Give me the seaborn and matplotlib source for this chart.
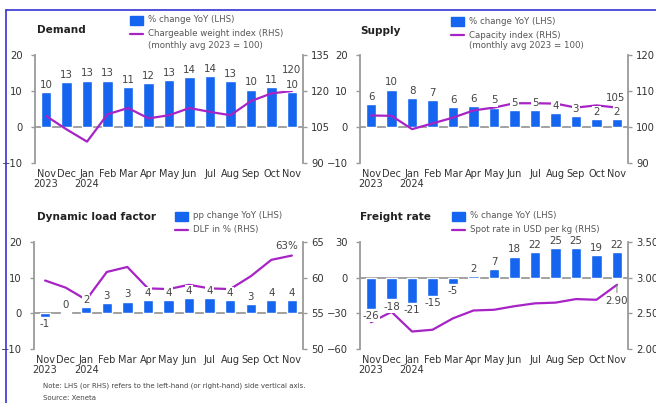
"""Air cargo market dashboard: demand, supply, load factor and freight rate."""

import matplotlib

matplotlib.use("Agg")

import matplotlib.pyplot as plt
from matplotlib.lines import Line2D
from matplotlib.patches import Rectangle
import seaborn as sns


W, H = 656, 403
BAR_COLOR = "#1565F0"
LINE_COLOR = "#A723C6"
SPINE_COLOR = "#9a9a9a"
TEXT_COLOR = "#333333"
FRAME_COLOR = "#3434D4"

MONTHS = ["Nov\n2023", "Dec", "Jan\n2024", "Feb", "Mar", "Apr", "May",
          "Jun", "Jul", "Aug", "Sep", "Oct", "Nov"]

DEMAND_YOY = [9.6, 12.6, 12.9, 12.9, 11.2, 12.1, 13.1, 14.0, 14.2, 12.7, 10.4, 11.0, 9.6]
DEMAND_INDEX = [109.6, 104.0, 98.9, 110.3, 112.9, 108.6, 109.9, 112.9, 111.3, 109.9, 115.8, 119.0, 120.0]

SUPPLY_YOY = [6.4, 10.4, 8.1, 7.4, 5.6, 5.9, 5.4, 4.6, 4.6, 4.0, 3.1, 2.3, 2.3]
SUPPLY_INDEX = [103.2, 103.1, 99.4, 101.0, 102.6, 104.6, 105.4, 106.6, 106.6, 106.5, 105.4, 106.0, 105.4]

DLF_PP = [-0.9, 0.3, 1.7, 3.0, 3.3, 3.6, 3.8, 4.2, 4.2, 3.6, 2.6, 3.8, 3.6]
DLF_PCT = [59.6, 58.6, 56.9, 60.8, 61.5, 58.5, 58.4, 59.0, 58.5, 58.4, 60.2, 62.5, 63.1]

FREIGHT_YOY = [-26.4, -18.3, -21.4, -15.3, -5.3, 1.7, 6.9, 17.8, 21.6, 24.6, 24.7, 18.9, 21.6]
SPOT_RATE = [2.375, 2.52, 2.245, 2.27, 2.43, 2.54, 2.55, 2.60, 2.64, 2.65, 2.70, 2.69, 2.90]

PANELS = [
    {
        "title": "Demand",
        "bars": DEMAND_YOY,
        "line": DEMAND_INDEX,
        "bar_legend": "% change YoY (LHS)",
        "line_legend": ["Chargeable weight index (RHS)", "(monthly avg 2023 = 100)"],
        "left_ticks": [-10, 0, 10, 20],
        "right_ticks": [90, 105, 120, 135],
        "right_fmt": "{:.0f}",
        "end_fmt": "{:.0f}",
        "end_offset": (0, 11.5),
        "box": (35, 55, 303, 163),
        "title_xy": (37, 30),
        "legend_xy": (130, 20),
    },
    {
        "title": "Supply",
        "bars": SUPPLY_YOY,
        "line": SUPPLY_INDEX,
        "bar_legend": "% change YoY (LHS)",
        "line_legend": ["Capacity index (RHS)", "(monthly avg 2023 = 100)"],
        "left_ticks": [-10, 0, 10, 20],
        "right_ticks": [90, 100, 110, 120],
        "right_fmt": "{:.0f}",
        "end_fmt": "{:.0f}",
        "end_offset": (-1, 3.5),
        "box": (360, 55, 628, 163),
        "title_xy": (360, 31),
        "legend_xy": (451, 21),
    },
    {
        "title": "Dynamic load factor",
        "bars": DLF_PP,
        "line": DLF_PCT,
        "bar_legend": "pp change YoY (LHS)",
        "line_legend": ["DLF in % (RHS)"],
        "left_ticks": [-10, 0, 10, 20],
        "right_ticks": [50, 55, 60, 65],
        "right_fmt": "{:.0f}",
        "end_fmt": "{:.0f}%",
        "end_offset": (-4, 3.5),
        "box": (34, 242, 303, 349),
        "title_xy": (37, 217),
        "legend_xy": (175, 216),
    },
    {
        "title": "Freight rate",
        "bars": FREIGHT_YOY,
        "line": SPOT_RATE,
        "bar_legend": "% change YoY (LHS)",
        "line_legend": ["Spot rate in USD per kg (RHS)"],
        "left_ticks": [-60, -30, 0, 30],
        "right_ticks": [2.0, 2.5, 3.0, 3.5],
        "right_fmt": "{:.2f}",
        "end_fmt": "{:.2f}",
        "end_offset": (0, -8),
        "box": (360, 242, 628, 349),
        "title_xy": (360, 217),
        "legend_xy": (452, 216),
    },
]


def fx(px: float) -> float:
    return px / W


def fy(py: float) -> float:
    return 1 - py / H


def draw_legend(fig, spec) -> None:
    """Hand-placed legend: bar swatch, line swatch and wrapped text."""
    x, y = spec["legend_xy"]
    fig.add_artist(Rectangle((fx(x), fy(y + 4.5)), fx(13), 9 / H, color=BAR_COLOR,
                             transform=fig.transFigure))
    fig.text(fx(x + 18), fy(y), spec["bar_legend"], fontsize=6.2, color="#555555", va="center")
    ly = y + 14
    fig.add_artist(Line2D([fx(x), fx(x + 13)], [fy(ly), fy(ly)], color=LINE_COLOR, lw=1.6,
                          transform=fig.transFigure))
    for i, text in enumerate(spec["line_legend"]):
        fig.text(fx(x + 18), fy(ly + 11 * i), text, fontsize=6.2, color="#555555", va="center")


def draw_panel(fig, spec) -> None:
    left, top, right, bottom = spec["box"]
    ax = fig.add_axes([fx(left), fy(bottom), fx(right - left), (bottom - top) / H])
    sns.barplot(x=MONTHS, y=spec["bars"], color=BAR_COLOR, saturation=1, width=0.5, ax=ax, zorder=2)
    ax.axhline(0, color=SPINE_COLOR, lw=1.3, zorder=1)

    ax2 = ax.twinx()
    sns.lineplot(x=MONTHS, y=spec["line"], sort=False, color=LINE_COLOR, lw=1.6, ax=ax2)

    lt, rt = spec["left_ticks"], spec["right_ticks"]
    ax.set_ylim(lt[0], lt[-1])
    ax.set_yticks(lt)
    ax2.set_ylim(rt[0], rt[-1])
    ax2.set_yticks(rt)
    ax2.set_yticklabels([spec["right_fmt"].format(v) for v in rt])
    ax.set_xlim(-0.54, len(MONTHS) - 0.46)

    for a in (ax, ax2):
        for side in ("top", "bottom", "left", "right"):
            a.spines[side].set_visible(False)
        a.set_xlabel("")
        a.set_ylabel("")
    ax.spines["left"].set_visible(True)
    ax.spines["left"].set_color(SPINE_COLOR)
    ax.spines["left"].set_linewidth(1.3)
    ax2.spines["right"].set_visible(True)
    ax2.spines["right"].set_color(SPINE_COLOR)
    ax2.spines["right"].set_linewidth(1.3)

    ax.tick_params(axis="y", length=3, width=1, color=SPINE_COLOR, pad=6,
                   labelsize=7.2, labelcolor=TEXT_COLOR)
    ax2.tick_params(axis="y", length=3, width=1, color=SPINE_COLOR, pad=3,
                    labelsize=7.2, labelcolor=TEXT_COLOR)
    ax.tick_params(axis="x", length=0, pad=4, labelsize=7.0, labelcolor=TEXT_COLOR)
    for label in ax.get_xticklabels():
        label.set_linespacing(1.1)

    # bar value labels go on the twin axes so they sit above the line
    for bar in ax.patches:
        h = bar.get_height()
        cx = bar.get_x() + bar.get_width() / 2
        ax2.annotate(f"{h:.0f}", xy=(cx, h), xycoords=ax.transData,
                     xytext=(0, 1.5 if h >= 0 else -1.5), textcoords="offset points",
                     ha="center", va="bottom" if h >= 0 else "top",
                     fontsize=7.4, color="#444444", zorder=5,
                     bbox=dict(boxstyle="square,pad=0.1", fc="white", ec="none"))

    last = len(MONTHS) - 1
    end_val = spec["line"][-1]
    dx, dy = spec["end_offset"]
    arrow = dict(arrowstyle="-", color="#777777", lw=0.7, shrinkA=0, shrinkB=0) if dy < 0 else None
    ax2.annotate(spec["end_fmt"].format(end_val), xy=(last, end_val),
                 xytext=(dx, dy), textcoords="offset points",
                 ha="center", va="bottom" if dy >= 0 else "top",
                 fontsize=7.4, color="#444444", zorder=6, arrowprops=arrow)

    tx, ty = spec["title_xy"]
    fig.text(fx(tx), fy(ty), spec["title"], fontsize=7.6, fontweight="bold",
             color="#222222", va="center")
    draw_legend(fig, spec)


def main() -> None:
    sns.set_theme(style="white")
    plt.rcParams["font.family"] = ["DejaVu Sans"]
    fig = plt.figure(figsize=(W / 100, H / 100), dpi=100)
    fig.patch.set_facecolor("white")

    for spec in PANELS:
        draw_panel(fig, spec)

    fig.text(fx(43), fy(386),
             "Note: LHS (or RHS) refers to the left-hand (or right-hand) side vertical axis.",
             fontsize=5, color="#444444", va="center")
    fig.text(fx(43), fy(398), "Source: Xeneta", fontsize=5, color="#444444", va="center")

    # blue frame round the top and left edges
    fig.add_artist(Line2D([fx(6), fx(6)], [fy(10), 0], color=FRAME_COLOR, lw=1.2,
                          transform=fig.transFigure))
    fig.add_artist(Line2D([fx(6), 1], [fy(10), fy(10)], color=FRAME_COLOR, lw=1.2,
                          transform=fig.transFigure))

    fig.savefig("out.png", dpi=100)
    plt.close(fig)


if __name__ == "__main__":
    main()
